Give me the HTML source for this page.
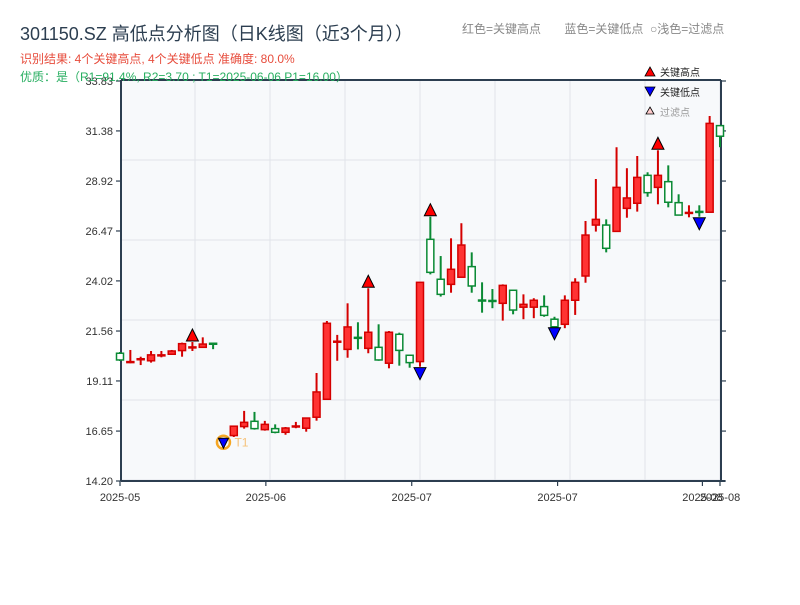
<!DOCTYPE html>
<html><head><meta charset="utf-8">
<style>
body{margin:0;background:#fff;width:800px;height:600px;overflow:hidden;font-family:"Liberation Sans","Noto Sans CJK SC",sans-serif;}
svg text{font-family:"Liberation Sans","Noto Sans CJK SC",sans-serif;}
</style></head>
<body>
<svg id="chart" width="800" height="600" xmlns="http://www.w3.org/2000/svg">
<text x="20" y="40" font-size="18" fill="#2c3e50">301150.SZ 高低点分析图（日K线图（近3个月））</text>
<text x="462" y="33" font-size="12" fill="#888">红色=关键高点 &#160;&#160;&#160;&#160;&#160;&#160;蓝色=关键低点 &#160;○浅色=过滤点</text>
<text x="20" y="63" font-size="12" fill="#e74c3c">识别结果: 4个关键高点, 4个关键低点  准确度: 80.0%</text>
<rect x="121" y="80" width="600" height="401" fill="#f7f9fb"/>
<g id="grid"></g>
<g id="axes"></g>
<g id="candles"></g>
<g id="markers"></g>
<text x="20" y="81" font-size="12" fill="#27ae60">优质：是（R1=91.4%, R2=3.70 ; T1=2025-06-06 P1=16.00）</text>
<g>
<polygon points="650,67 655,76 645,76" fill="#f00" stroke="#000" stroke-width="0.8"/>
<text x="660" y="76" font-size="10" fill="#222">关键高点</text>
<polygon points="645,87 655,87 650,96" fill="#00f" stroke="#000" stroke-width="0.8"/>
<text x="660" y="96" font-size="10" fill="#222">关键低点</text>
<polygon points="650,107 654,114 646,114" fill="#fcc" stroke="#000" stroke-width="0.8"/>
<text x="660" y="116" font-size="10" fill="#999">过滤点</text>
</g>
</svg>
<script>
const opens  =[20.47,19.98,20.10,20.10,20.27,20.42,20.60,20.68,20.76,20.96,null,16.43,16.87,17.13,16.72,16.77,16.59,16.79,16.79,17.33,18.21,21.02,20.66,21.25,20.71,20.76,19.98,21.40,20.37,20.06,26.06,24.10,23.85,24.20,24.72,23.08,23.06,22.92,23.56,22.73,22.73,22.76,22.14,21.89,23.07,24.26,26.76,26.76,26.45,27.58,27.83,29.20,28.61,28.89,27.86,27.36,27.43,27.39,31.64];
const closes =[20.14,20.06,20.20,20.39,20.39,20.58,20.94,20.78,20.92,20.87,null,16.89,17.08,16.77,16.98,16.59,16.80,16.90,17.29,18.57,21.94,21.06,21.76,21.22,21.50,20.14,21.50,20.61,20.01,23.95,24.44,23.36,24.59,25.78,23.77,23.05,23.04,23.80,22.59,22.87,23.07,22.33,21.77,23.07,23.95,26.27,27.04,25.62,28.61,28.09,29.10,28.35,29.20,27.88,27.25,27.38,27.40,31.75,31.12];
const highs  =[20.53,20.63,20.30,20.58,20.58,20.63,20.99,21.02,21.25,20.96,null,16.89,17.64,17.59,17.15,16.98,16.85,17.10,17.29,19.50,22.05,21.37,22.92,21.99,23.66,21.89,21.56,21.48,20.39,23.95,27.17,25.24,26.11,26.85,25.42,23.95,23.62,23.85,23.56,23.36,23.17,23.31,22.26,23.31,24.15,26.96,29.02,27.04,30.58,29.55,30.15,29.35,30.43,29.69,28.27,27.73,27.73,32.11,31.67];
const lows   =[20.09,19.98,19.89,20.01,20.27,20.42,20.30,20.58,20.76,20.67,16.05,16.36,16.77,16.72,16.67,16.54,16.47,16.79,16.62,17.16,18.21,20.10,20.25,20.66,20.47,20.10,19.73,19.86,19.76,19.81,24.34,23.25,23.44,24.20,23.44,22.46,22.68,22.07,22.38,22.14,22.19,22.26,21.77,21.70,22.35,23.93,26.44,25.42,26.45,27.12,27.42,28.15,27.78,27.63,27.25,27.14,27.17,27.39,30.58];
const highIdx=[7,24,30,52];
const lowIdx=[10,29,42,56];
const yTicks=["14.20","16.65","19.11","21.56","24.02","26.47","28.92","31.38","33.83"];
const xLabels=["2025-05","2025-06","2025-07","2025-07","2025-08","2025-08"];
const xLabelIdx=[0,14.1,28.2,42.3,56.3,58];

const NS="http://www.w3.org/2000/svg";
const X0=120,X1=720,Y0=481,Y1=81,YMIN=14.20,YMAX=33.83,N=opens.length;
const xs=i=>X0+i*(X1-X0)/(N-1);
const ys=v=>Y0-(v-YMIN)/(YMAX-YMIN)*(Y0-Y1);
function mk(tag,attrs,parent){const e=document.createElementNS(NS,tag);for(const k in attrs)e.setAttribute(k,attrs[k]);document.getElementById(parent).appendChild(e);return e;}

for(let k=1;k<=8;k++){const e=mk('line',{x1:120+k*75,x2:120+k*75,y1:80,y2:481,stroke:'#e1e4ea','stroke-width':1},'grid');

}
for(let k=0;k<=5;k++){const e=mk('line',{x1:121,x2:721,y1:80+k*80,y2:80+k*80,stroke:'#e1e4ea','stroke-width':1},'grid');

}

[[121,80,121,481],[121,481,725,481],[121,80,721,80],[721,80,721,481]].forEach(a=>{const e=mk('line',{x1:a[0],y1:a[1],x2:a[2],y2:a[3],stroke:'#2c3e50','stroke-width':2},'axes');

});
yTicks.forEach(t=>{const y=ys(parseFloat(t));
const l=mk('line',{x1:116,x2:121,y1:y,y2:y,stroke:'#2c3e50','stroke-width':1.2},'axes');


const r=mk('line',{x1:721,x2:726,y1:y,y2:y,stroke:'#2c3e50','stroke-width':1.2},'axes');


const tx=mk('text',{x:113,y:y+4,'font-size':11,fill:'#333','text-anchor':'end'},'axes');tx.textContent=t;

});
xLabels.forEach((t,k)=>{const x=xs(xLabelIdx[k]);
const l=mk('line',{x1:x,x2:x,y1:481,y2:486,stroke:'#2c3e50','stroke-width':1.2},'axes');


const tx=mk('text',{x:x,y:501,'font-size':11,fill:'#333','text-anchor':'middle'},'axes');tx.textContent=t;

});

for(let i=0;i<N;i++){if(opens[i]===null)continue;
const up=closes[i]>=opens[i];const col=up?'#d40000':'#0a8a34';const x=xs(i);
const w=mk('line',{x1:x,x2:x,y1:ys(highs[i]),y2:ys(lows[i]),stroke:col,'stroke-width':2},'candles');


const top=ys(Math.max(opens[i],closes[i])),bot=ys(Math.min(opens[i],closes[i]));
const h=Math.max(bot-top,1.5);
const b=mk('rect',{x:x-3.5,y:top,width:7,height:h,fill:up?'#ff3333':'#ffffff',stroke:col,'stroke-width':1.5},'candles');
if(h<2.5){b.setAttribute('height',1);b.setAttribute('fill',col);}

}

highIdx.forEach(i=>{const x=xs(i),y=ys(highs[i]);
const p=mk('polygon',{points:`${x},${y-13} ${x+6},${y-1} ${x-6},${y-1}`,fill:'#f00',stroke:'#000','stroke-width':1},'markers');

});
lowIdx.forEach((i,k)=>{const x=xs(i),y=ys(lows[i]);
if(k===0){const c=mk('circle',{cx:x,cy:y-1,r:6.5,fill:'none',stroke:'#f5a623','stroke-width':2.5},'markers');


const t=mk('text',{x:x+11,y:y+3,'font-size':12,fill:'#f5c27a'},'markers');t.textContent='T1';


const p=mk('polygon',{points:`${x-5},${y-5} ${x+5},${y-5} ${x},${y+5}`,fill:'#00f',stroke:'#000','stroke-width':1},'markers');

return;}
const p=mk('polygon',{points:`${x-6},${y+1} ${x+6},${y+1} ${x},${y+13}`,fill:'#00f',stroke:'#000','stroke-width':1},'markers');

});
</script>
</body></html>
